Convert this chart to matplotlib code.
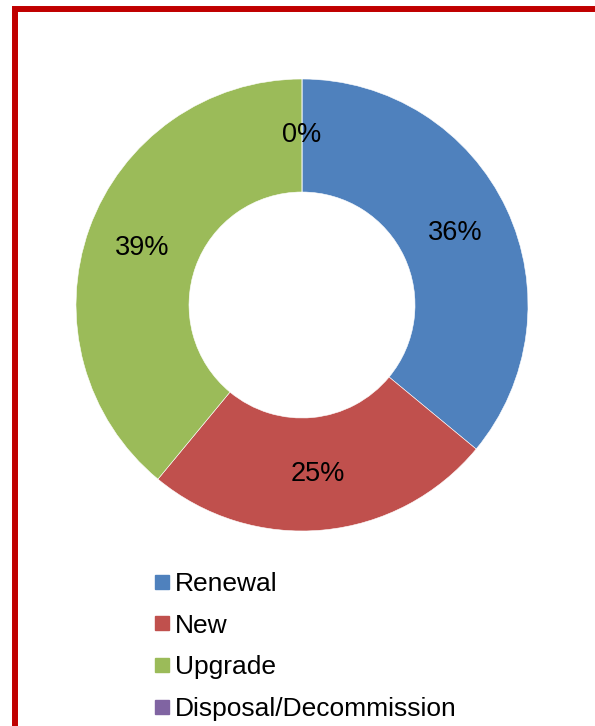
import matplotlib.pyplot as plt
from matplotlib.patches import Rectangle
from matplotlib.lines import Line2D

plt.rcParams['font.family'] = ['Liberation Sans', 'DejaVu Sans']

categories = ['Renewal', 'New', 'Upgrade', 'Disposal/Decommission']
shares = [36, 25, 39, 0]
colors = ['#4F81BD', '#C0504D', '#9BBB59', '#8064A2']

W, H = 595, 726
fig = plt.figure(figsize=(W / 100, H / 100), dpi=100)

# red frame, runs off the right and bottom edges
fig.patches.append(Rectangle((14.5 / W, -10 / H), (598 - 14.5) / W, (H - 9 + 10) / H,
                             transform=fig.transFigure, fill=False,
                             edgecolor='#C00000', linewidth=4.3, zorder=0))

# pie centre (302, 305) px, radius 226 px
half = 240
ax = fig.add_axes([(302 - half) / W, (H - 305 - half) / H, 2 * half / W, 2 * half / H])
wedges, _, autotexts = ax.pie(shares, colors=colors, startangle=90, counterclock=False,
                              radius=1, autopct='%.0f%%', pctdistance=0.75,
                              wedgeprops=dict(width=0.5, edgecolor='white', linewidth=0.4),
                              textprops=dict(fontsize=19.5, color='black'))
lim = half / 226
ax.set_xlim(-lim, lim)
ax.set_ylim(-lim, lim)
ax.set_aspect('equal')
ax.axis('off')

handles = [Line2D([], [], marker='s', linestyle='none', markersize=10,
                  markerfacecolor=c, markeredgecolor=c) for c in colors]
fig.legend(handles, categories, loc='upper left', bbox_to_anchor=(155 / W, 1 - 572 / H),
           frameon=False, fontsize=19, handlelength=0.55, handletextpad=0.2,
           labelspacing=0.67, borderpad=0, borderaxespad=0)

fig.savefig('out.png', dpi=100)
